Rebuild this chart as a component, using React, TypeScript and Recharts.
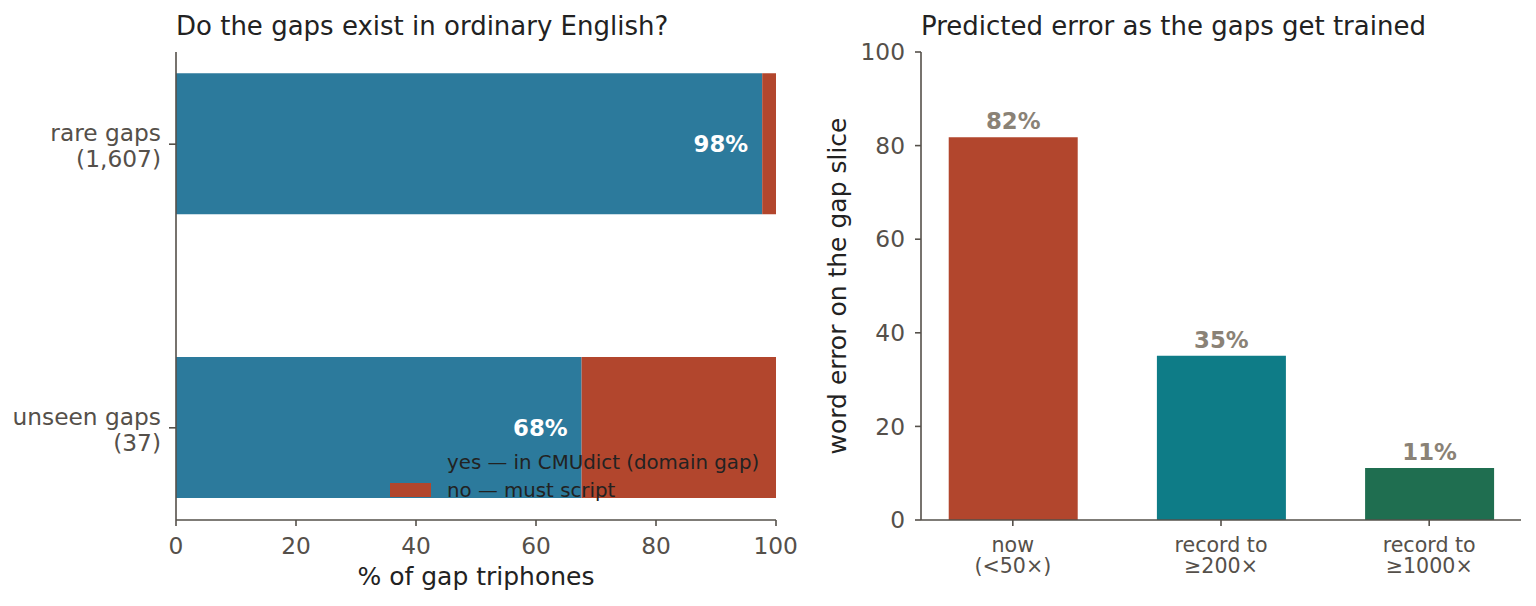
import React from "react";
import {
  BarChart,
  Bar,
  XAxis,
  YAxis,
  Cell,
  LabelList,
  Label,
  Legend,
} from "recharts";

// left panel: do the gaps exist in ordinary English?
const gapGroups = ["rare gaps", "unseen gaps"];
const gapCounts = ["1,607", "37"];
const inDictPct = [97.7, 67.6];
const mustScriptPct = [2.3, 32.4];
const seriesNames = ["yes — in CMUdict (domain gap)", "no — must script"];
const pctTicks = [0, 20, 40, 60, 80, 100];

// right panel: predicted error as the gaps get trained
const stages = ["now\n(<50×)", "record to\n≥200×", "record to\n≥1000×"];
const predictedError = [81.8, 35.1, 11.1];
const stageColors = ["#b2462d", "#0e7c87", "#1f6e50"];
const errTicks = [0, 20, 40, 60, 80, 100];

const FONT = '"DejaVu Sans", sans-serif';
const TICK_COLOR = "#55504a";
const TICK_SIZE = 23.3;
const AXIS = { stroke: "#55504a", strokeWidth: 1.6 };
const BLUE = "#2c7a9c";
const RED = "#b2462d";

const gapRows = gapGroups.map((g, i) => ({
  pos: i,
  name: g,
  yes: inDictPct[i],
  no: mustScriptPct[i],
}));

const stageRows = stages.map((s, i) => ({
  pos: i,
  name: s,
  err: predictedError[i],
}));

const GapTick = (props: any) => {
  const { x, y, payload } = props;
  const i = Math.round(payload.value);
  return (
    <text textAnchor="end" fill={TICK_COLOR} fontSize={TICK_SIZE} fontFamily={FONT}>
      <tspan x={x} y={y - 3}>
        {gapGroups[i]}
      </tspan>
      <tspan x={x} y={y + 23}>
        ({gapCounts[i]})
      </tspan>
    </text>
  );
};

const StageTick = (props: any) => {
  const { x, y, payload } = props;
  const lines = stages[Math.round(payload.value)].split("\n");
  return (
    <text textAnchor="middle" fill={TICK_COLOR} fontSize={20.6} fontFamily={FONT}>
      {lines.map((l, k) => (
        <tspan key={k} x={x} y={y + 22 + k * 21}>
          {l}
        </tspan>
      ))}
    </text>
  );
};

const GapLegend = (props: any) => {
  const items = [...(props.payload || [])].sort(
    (a: any, b: any) => seriesNames.indexOf(a.value) - seriesNames.indexOf(b.value)
  );
  return (
    <div style={{ fontFamily: FONT, fontSize: 19.8, color: "#222" }}>
      {items.map((it: any) => (
        <div
          key={it.value}
          style={{ display: "flex", alignItems: "center", height: 27.5, whiteSpace: "nowrap" }}
        >
          <span
            style={{
              display: "inline-block",
              width: 41,
              height: 14,
              background: it.color,
              marginRight: 16,
            }}
          />
          {it.value}
        </div>
      ))}
    </div>
  );
};

const pct = (v: any) => `${Math.round(Number(v))}%`;

const titleStyle: React.CSSProperties = {
  position: "absolute",
  top: 13,
  fontSize: 26,
  lineHeight: "26px",
  color: "#222",
  whiteSpace: "nowrap",
};

export default function App() {
  return (
    <div
      style={{
        position: "absolute",
        left: 0,
        top: 0,
        width: 1536,
        height: 606,
        background: "#fff",
        fontFamily: FONT,
      }}
    >
      <div style={{ ...titleStyle, left: 176 }}>Do the gaps exist in ordinary English?</div>
      <div style={{ ...titleStyle, left: 921 }}>Predicted error as the gaps get trained</div>

      <div style={{ position: "absolute", left: 0, top: 0 }}>
        <BarChart
          width={800}
          height={606}
          data={gapRows}
          layout="vertical"
          margin={{ top: 52, right: 24, bottom: 0, left: 0 }}
        >
          <XAxis
            type="number"
            domain={[0, 100]}
            ticks={pctTicks}
            height={86}
            tickSize={6}
            tickMargin={11}
            axisLine={AXIS}
            tickLine={AXIS}
            tick={{ fill: TICK_COLOR, fontSize: TICK_SIZE, fontFamily: FONT }}
          >
            <Label
              value="% of gap triphones"
              position="insideBottom"
              offset={21}
              style={{ fill: "#222", fontSize: 25, fontFamily: FONT }}
            />
          </XAxis>
          <YAxis
            type="number"
            dataKey="pos"
            domain={[-0.325, 1.325]}
            ticks={[0, 1]}
            allowDataOverflow
            width={176}
            tickSize={7}
            tickMargin={8}
            axisLine={AXIS}
            tickLine={AXIS}
            tick={<GapTick />}
          />
          <Legend
            layout="vertical"
            align="center"
            verticalAlign="middle"
            content={<GapLegend />}
            wrapperStyle={{ position: "absolute", left: 390, top: 449, width: "auto" }}
          />
          <Bar
            dataKey="yes"
            name={seriesNames[0]}
            stackId="g"
            fill={BLUE}
            barSize={141}
            isAnimationActive={false}
          >
            <LabelList
              dataKey="yes"
              position="insideRight"
              offset={14}
              formatter={pct}
              style={{ fill: "#fff", fontWeight: "bold", fontSize: 22.8, fontFamily: FONT }}
            />
          </Bar>
          <Bar
            dataKey="no"
            name={seriesNames[1]}
            stackId="g"
            fill={RED}
            barSize={141}
            isAnimationActive={false}
          />
        </BarChart>
      </div>

      <div style={{ position: "absolute", left: 760, top: 0 }}>
        <BarChart
          width={776}
          height={606}
          data={stageRows}
          margin={{ top: 52, right: 15, bottom: 0, left: 0 }}
        >
          <XAxis
            type="number"
            dataKey="pos"
            domain={[-0.441, 2.441]}
            ticks={[0, 1, 2]}
            allowDataOverflow
            height={86}
            tickSize={6}
            tickMargin={4}
            axisLine={AXIS}
            tickLine={AXIS}
            tick={<StageTick />}
          />
          <YAxis
            type="number"
            domain={[0, 100]}
            ticks={errTicks}
            width={161}
            tickSize={6}
            tickMargin={10}
            axisLine={AXIS}
            tickLine={AXIS}
            tick={{ fill: TICK_COLOR, fontSize: TICK_SIZE, fontFamily: FONT }}
          >
            <Label
              value="word error on the gap slice"
              angle={-90}
              position="insideLeft"
              offset={77}
              style={{ fill: "#222", fontSize: 25, fontFamily: FONT, textAnchor: "middle" }}
            />
          </YAxis>
          <Bar dataKey="err" barSize={129} isAnimationActive={false}>
            {stageRows.map((r, i) => (
              <Cell key={r.name} fill={stageColors[i]} />
            ))}
            <LabelList
              dataKey="err"
              position="top"
              offset={8}
              formatter={pct}
              style={{ fill: "#8a8276", fontWeight: "bold", fontSize: 22.8, fontFamily: FONT }}
            />
          </Bar>
        </BarChart>
      </div>
    </div>
  );
}
